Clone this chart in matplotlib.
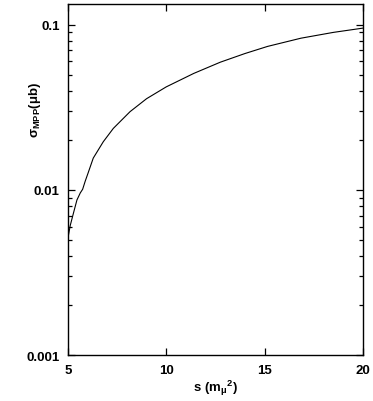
# cross section sigma_MPP vs s, log scale

import matplotlib
matplotlib.use('Agg')
import matplotlib.pyplot as plt
from matplotlib.ticker import LogLocator, NullFormatter, FixedLocator, FixedFormatter

s_vals = [5.0, 5.12, 5.29, 5.46, 5.63, 5.75, 5.88, 6.02, 6.29, 6.8, 7.31,
          8.16, 9.0, 10.0, 11.4, 12.75, 14.0, 15.15, 16.85, 18.5, 20.0]
sigma_vals = [0.0051, 0.0061, 0.0073, 0.0087, 0.0096, 0.0101, 0.0113, 0.0126,
              0.0156, 0.0196, 0.0236, 0.0298, 0.0357, 0.0421, 0.0508,
              0.0594, 0.0670, 0.0740, 0.0830, 0.0900, 0.0955]

x_ticks = [5, 10, 15, 20]
y_ticks = [0.001, 0.01, 0.1]
y_tick_labels = ['0.001', '0.01', '0.1']

plt.rcParams['font.family'] = ['Liberation Sans', 'DejaVu Sans']
plt.rcParams['font.weight'] = 'bold'
plt.rcParams['mathtext.fontset'] = 'custom'
plt.rcParams['mathtext.rm'] = 'Liberation Sans:bold'
plt.rcParams['mathtext.bf'] = 'Liberation Sans:bold'
plt.rcParams['mathtext.it'] = 'Liberation Sans:bold'
plt.rcParams['mathtext.default'] = 'rm'

fig = plt.figure(figsize=(3.73, 4.02), dpi=100)
ax = fig.add_axes([0.182, 0.114, 0.791, 0.874])

ax.plot(s_vals, sigma_vals, color='black', linewidth=0.8)

ax.set_yscale('log')
ax.set_xlim(5, 20)
ax.set_ylim(0.001, 0.134)

ax.xaxis.set_major_locator(FixedLocator(x_ticks))
ax.yaxis.set_major_locator(FixedLocator(y_ticks))
ax.yaxis.set_major_formatter(FixedFormatter(y_tick_labels))
ax.yaxis.set_minor_locator(LogLocator(base=10, subs=range(2, 10)))
ax.yaxis.set_minor_formatter(NullFormatter())

ax.tick_params(which='both', direction='in', top=True, right=True,
               labelsize=9.5, width=0.9, pad=6)
ax.tick_params(which='major', length=5)
ax.tick_params(which='minor', length=3)
for sp in ax.spines.values():
    sp.set_linewidth(1.0)

ax.set_xlabel(r'$\mathrm{s\ (m_{\mu}{}^{2})}$', fontsize=9.5, labelpad=2)
fig.text(0.094, 0.726, r'$\mathrm{\sigma_{MPP}(\mu b)}$', fontsize=9.5,
         rotation=90, ha='center', va='center')

fig.savefig('out.png', dpi=100)
